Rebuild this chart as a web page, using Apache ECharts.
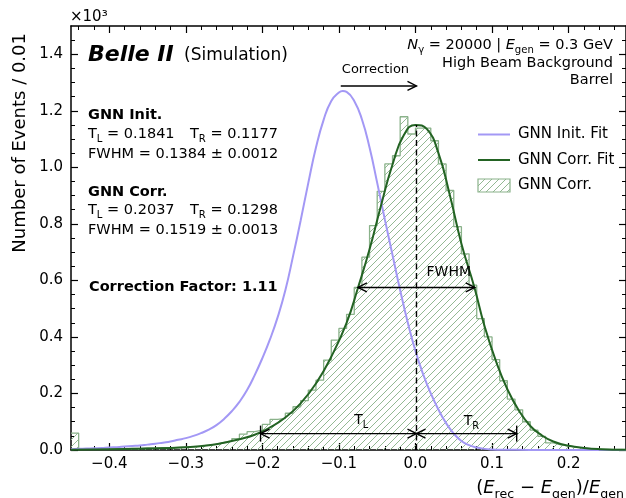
<!DOCTYPE html>
<html><head><meta charset="utf-8">
<script src="https://cdn.jsdelivr.net/npm/echarts@6/dist/echarts.min.js"></script>
<style>html,body{margin:0;padding:0;background:#fff}#c{width:626px;height:498px}</style>
</head><body><div id="c"></div>
<script>
// ---------------- data ----------------
const binStart = -0.45;
const binWidth = 0.01;
const histCounts = [60,3,2,4,3,5,4,6,5,7,6,8,7,9,11,12,14,17,21,27,32,40,56,65,70,91,108,112,130,153,175,212,247,318,389,430,480,575,682,794,915,1012,1041,1179,1118,1139,1139,1094,1012,918,790,694,583,465,400,320,245,180,142,100,70,48,25,18,15,10,7,5,4,3,2,2,1];

const initFitX = [-0.45,-0.44,-0.43,-0.42,-0.41,-0.40,-0.39,-0.38,-0.37,-0.36,-0.35,-0.34,-0.33,-0.32,-0.31,-0.30,-0.29,-0.28,-0.27,-0.26,-0.25,-0.24,-0.23,-0.22,-0.21,-0.20,-0.19,-0.18,-0.17,-0.16,-0.15,-0.14,-0.13,-0.12,-0.11,-0.10,-0.095,-0.09,-0.08,-0.07,-0.06,-0.05,-0.04,-0.03,-0.02,-0.01,0.00,0.01,0.02,0.03,0.04,0.05,0.06,0.07,0.08,0.09,0.10,0.12,0.15,0.275];
const initFitY = [3,4,5,6,7,9,10,12,14,16,19,22,26,30,36,42,50,60,72,88,110,137,170,212,265,325,392,470,565,685,812,945,1070,1168,1235,1265,1270,1267,1235,1170,1070,945,815,690,565,450,350,268,200,143,95,58,32,17,9,4,2,1,0,0];

const corrFitX = [-0.45,-0.40,-0.35,-0.30,-0.27,-0.25,-0.23,-0.21,-0.19,-0.17,-0.15,-0.13,-0.11,-0.09,-0.075,-0.06,-0.045,-0.03,-0.015,0.0,0.015,0.03,0.045,0.06,0.077,0.09,0.105,0.12,0.135,0.15,0.165,0.18,0.2,0.22,0.24,0.275];
const corrFitY = [1,3,5,10,17,26,38,54,80,115,165,235,330,450,575,710,865,1010,1115,1150,1135,1050,900,730,575,440,315,215,140,85,52,30,15,7,3,1];

const xMajorTicks = [-0.4,-0.3,-0.2,-0.1,0.0,0.1,0.2];
const xMinorTicks = [-0.44,-0.42,-0.38,-0.36,-0.34,-0.32,-0.28,-0.26,-0.24,-0.22,-0.18,-0.16,-0.14,-0.12,-0.08,-0.06,-0.04,-0.02,0.02,0.04,0.06,0.08,0.12,0.14,0.16,0.18,0.22,0.24,0.26];
const yMajorTicks = [0,200,400,600,800,1000,1200,1400];
const yMinorTicks = [50,100,150,250,300,350,450,500,550,650,700,750,850,900,950,1050,1100,1150,1250,1300,1350,1450];

// annotation values (data units)
const corrPeakX = 0.0013, corrPeakY = 1150;
const initPeakX = -0.0976, correctionArrowY = 1288;
const fwhmLeft = -0.0752, fwhmRight = 0.0774, halfMax = 575;
const tailLeft = -0.2024, tailRight = 0.1322, tailY = 58;
const labelCorrection = [-0.0523, 1341];
const labelFWHM = [0.0435, 625];
const labelTL = [-0.071, 100];
const labelTR = [0.073, 97];

// ---------------- styles ----------------
const FONT = 'DejaVu Sans';
const PURPLE = '#a398f5';
const DGREEN = '#236323';
const EDGE = '#8ab28a';
const HATCH = '#93b993';

function makeHatch(){
  const s = 7;
  const c = document.createElement('canvas');
  c.width = s; c.height = s;
  const g = c.getContext('2d');
  g.strokeStyle = HATCH; g.lineWidth = 1;
  g.beginPath();
  g.moveTo(-1, s+1); g.lineTo(s+1, -1);
  g.moveTo(-1, 1); g.lineTo(1, -1);
  g.moveTo(s-1, s+1); g.lineTo(s+1, s-1);
  g.stroke();
  return c;
}
const hatchFill = { image: makeHatch(), repeat: 'repeat' };

function rich(size){
  const L = size + 2;
  const sub = +(size*0.7).toFixed(1);
  return {
    n: {fontFamily:FONT, fontSize:size, lineHeight:L, verticalAlign:'top', fill:'#000'},
    b: {fontFamily:FONT, fontSize:size, fontWeight:'bold', lineHeight:L, verticalAlign:'top', fill:'#000'},
    it:{fontFamily:FONT, fontSize:size, fontStyle:'italic', lineHeight:L, verticalAlign:'top', fill:'#000'},
    s: {fontFamily:FONT, fontSize:sub, lineHeight:sub, verticalAlign:'top', padding:[L/2 - sub/2 + size*0.28,0,0,0], fill:'#000'}
  };
}

const histData = histCounts.map((v,i)=>[+(binStart+i*binWidth).toFixed(4), v]);
histData.push([+(binStart+histCounts.length*binWidth).toFixed(4), histCounts[histCounts.length-1]]);
const initData = initFitX.map((x,i)=>[x, initFitY[i]]);
const corrData = corrFitX.map((x,i)=>[x, corrFitY[i]]);

function fmtX(v){ const a = Math.abs(v).toFixed(1); return (v < -1e-9 ? '\u2212' : '') + a; }

function renderAnnotations(params, api){
  const P = (x,y)=>api.coord([x,y]);
  const kids = [];
  const lw = 1.4;
  function seg(a,b,extra){ kids.push({type:'line', shape:{x1:a[0],y1:a[1],x2:b[0],y2:b[1]}, style:Object.assign({stroke:'#000', lineWidth:lw}, extra||{})}); }
  function head(t, dir){ kids.push({type:'polyline', shape:{points:[[t[0]-dir*9, t[1]-4.5],[t[0],t[1]],[t[0]-dir*9, t[1]+4.5]]}, style:{stroke:'#000', lineWidth:lw, fill:null}}); }
  function txt(p, str, size){ kids.push({type:'text', x:p[0], y:p[1], style:{text:str, rich:rich(size), align:'center', verticalAlign:'middle', fill:'#000', fontFamily:FONT, fontSize:size}}); }
  seg(P(corrPeakX,0), P(corrPeakX,corrPeakY), {lineDash:[6,3.5]});
  const ca = P(initPeakX, correctionArrowY), cb = P(corrPeakX, correctionArrowY);
  seg(ca, cb); head(cb, 1);
  const fa = P(fwhmLeft, halfMax), fb = P(fwhmRight, halfMax);
  seg(fa, fb); head(fa, -1); head(fb, 1);
  const tc = P(corrPeakX, tailY), tl = P(tailLeft, tailY), tr = P(tailRight, tailY);
  seg(tl, tc); head(tl, -1); head(tc, 1);
  seg(tc, tr); head(tc, -1); head(tr, 1);
  seg([tl[0], tl[1]-8], [tl[0], tl[1]+8]);
  seg([tr[0], tr[1]-8], [tr[0], tr[1]+8]);
  txt(P(labelCorrection[0], labelCorrection[1]), '{n|Correction}', 13);
  txt(P(labelFWHM[0], labelFWHM[1]), '{n|FWHM}', 14);
  txt(P(labelTL[0], labelTL[1]), '{n|T}{s|L}', 14);
  txt(P(labelTR[0], labelTR[1]), '{n|T}{s|R}', 14);
  return {type:'group', children:kids};
}

function gtext(x, y, str, size, align, extra){
  return Object.assign({type:'text', x:x, y:y, silent:true, style:{text:str, rich:rich(size), fontFamily:FONT, fontSize:size, fill:'#000', align:align||'left', textAlign:align||'left', verticalAlign:'middle', textVerticalAlign:'middle'}}, extra||{});
}

const axisCommonX = {type:'value', min:-0.45, max:0.275, splitLine:{show:false}, axisPointer:{show:false}};
const axisCommonY = {type:'value', min:0, max:1500, splitLine:{show:false}, axisPointer:{show:false}};
const spine = {show:true, onZero:false, lineStyle:{color:'#000', width:1.5}};
const noSpine = {show:false, onZero:false};

const option = {
  animation:false,
  backgroundColor:'#fff',
  grid:{left:71, top:26, right:-8, bottom:48, containLabel:false},
  xAxis:[
    Object.assign({}, axisCommonX, {position:'bottom', axisLine:spine,
      axisTick:{show:true, inside:true, length:7, customValues:xMajorTicks, lineStyle:{color:'#000', width:1.2}},
      axisLabel:{show:true, customValues:xMajorTicks, formatter:fmtX, fontFamily:FONT, fontSize:15, color:'#000', margin:7}}),
    Object.assign({}, axisCommonX, {position:'bottom', axisLine:noSpine,
      axisTick:{show:true, inside:true, length:4, customValues:xMinorTicks, lineStyle:{color:'#000', width:1}},
      axisLabel:{show:false}}),
    Object.assign({}, axisCommonX, {position:'top', axisLine:spine,
      axisTick:{show:true, inside:true, length:7, customValues:xMajorTicks, lineStyle:{color:'#000', width:1.2}},
      axisLabel:{show:false}}),
    Object.assign({}, axisCommonX, {position:'top', axisLine:noSpine,
      axisTick:{show:true, inside:true, length:4, customValues:xMinorTicks, lineStyle:{color:'#000', width:1}},
      axisLabel:{show:false}})
  ],
  yAxis:[
    Object.assign({}, axisCommonY, {position:'left', axisLine:spine,
      axisTick:{show:true, inside:true, length:7, customValues:yMajorTicks, lineStyle:{color:'#000', width:1.2}},
      axisLabel:{show:true, customValues:yMajorTicks, formatter:v=>(v/1000).toFixed(1), fontFamily:FONT, fontSize:15, color:'#000', margin:8}}),
    Object.assign({}, axisCommonY, {position:'left', axisLine:noSpine,
      axisTick:{show:true, inside:true, length:4, customValues:yMinorTicks, lineStyle:{color:'#000', width:1}},
      axisLabel:{show:false}}),
    Object.assign({}, axisCommonY, {position:'right', axisLine:spine,
      axisTick:{show:true, inside:true, length:7, customValues:yMajorTicks, lineStyle:{color:'#000', width:1.2}},
      axisLabel:{show:false}}),
    Object.assign({}, axisCommonY, {position:'right', axisLine:noSpine,
      axisTick:{show:true, inside:true, length:4, customValues:yMinorTicks, lineStyle:{color:'#000', width:1}},
      axisLabel:{show:false}})
  ],
  legend:{
    orient:'vertical', left:472, top:122, itemWidth:32, itemHeight:13, itemGap:10.5,
    textStyle:{fontFamily:FONT, fontSize:15, color:'#000', padding:[0,0,0,3]},
    selectedMode:false,
    data:[
      {name:'GNN Init. Fit', itemStyle:{opacity:0}},
      {name:'GNN Corr. Fit', itemStyle:{opacity:0}},
      {name:'GNN Corr.', icon:'rect', itemStyle:{color:hatchFill, borderColor:EDGE, borderWidth:1.2}}
    ]
  },
  series:[
    {name:'GNN Corr.', type:'line', step:'end', data:histData, xAxisIndex:0, yAxisIndex:0, symbol:'none', showSymbol:false,
      lineStyle:{color:EDGE, width:1.3}, itemStyle:{color:EDGE}, areaStyle:{color:hatchFill, opacity:1}, z:1, silent:true},
    {name:'GNN Init. Fit', type:'line', data:initData, xAxisIndex:0, yAxisIndex:0, smooth:0.5, symbol:'none', showSymbol:false,
      lineStyle:{color:PURPLE, width:2}, itemStyle:{color:PURPLE}, z:3, silent:true},
    {name:'GNN Corr. Fit', type:'line', data:corrData, xAxisIndex:0, yAxisIndex:0, smooth:0.5, symbol:'none', showSymbol:false,
      lineStyle:{color:DGREEN, width:2}, itemStyle:{color:DGREEN}, z:4, silent:true},
    {name:'annotations', type:'custom', xAxisIndex:0, yAxisIndex:0, data:[[corrPeakX, corrPeakY]], renderItem:renderAnnotations, clip:false, z:6, silent:true}
  ],
  graphic:[
    gtext(70, 18, '{n|×10³}', 15),
    gtext(21, 33, '{n|Number of Events / 0.01}', 18, 'right', {rotation:Math.PI/2}),
    gtext(624, 489, '{n|(}{it|E}{s|rec}{n| − }{it|E}{s|gen}{n|)/}{it|E}{s|gen}', 18, 'right'),
    {type:'text', x:88, y:55, silent:true, style:{text:'Belle II', font:'italic bold 22px "DejaVu Sans"', fill:'#000', align:'left', verticalAlign:'middle'}},
    gtext(184, 57, '{n|(Simulation)}', 17),
    gtext(88, 116, '{b|GNN Init.}', 14.5),
    gtext(88, 135, '{n|T}{s|L}{n| = 0.1841}', 14.5),
    gtext(190, 135, '{n|T}{s|R}{n| = 0.1177}', 14.5),
    gtext(88, 155, '{n|FWHM = 0.1384 ± 0.0012}', 14.5),
    gtext(88, 193, '{b|GNN Corr.}', 14.5),
    gtext(88, 211, '{n|T}{s|L}{n| = 0.2037}', 14.5),
    gtext(190, 211, '{n|T}{s|R}{n| = 0.1298}', 14.5),
    gtext(88, 231, '{n|FWHM = 0.1519 ± 0.0013}', 14.5),
    gtext(89, 288, '{b|Correction Factor: 1.11}', 14.5),
    gtext(613, 46, '{it|N}{s|γ}{n| = 20000 | }{it|E}{s|gen}{n| = 0.3 GeV}', 14.5, 'right'),
    gtext(613, 64, '{n|High Beam Background}', 14.5, 'right'),
    gtext(613, 81, '{n|Barrel}', 14.5, 'right')
  ]
};
const chart = echarts.init(document.getElementById('c'), null, {renderer:'canvas'});
chart.setOption(option);
</script>
</body></html>
